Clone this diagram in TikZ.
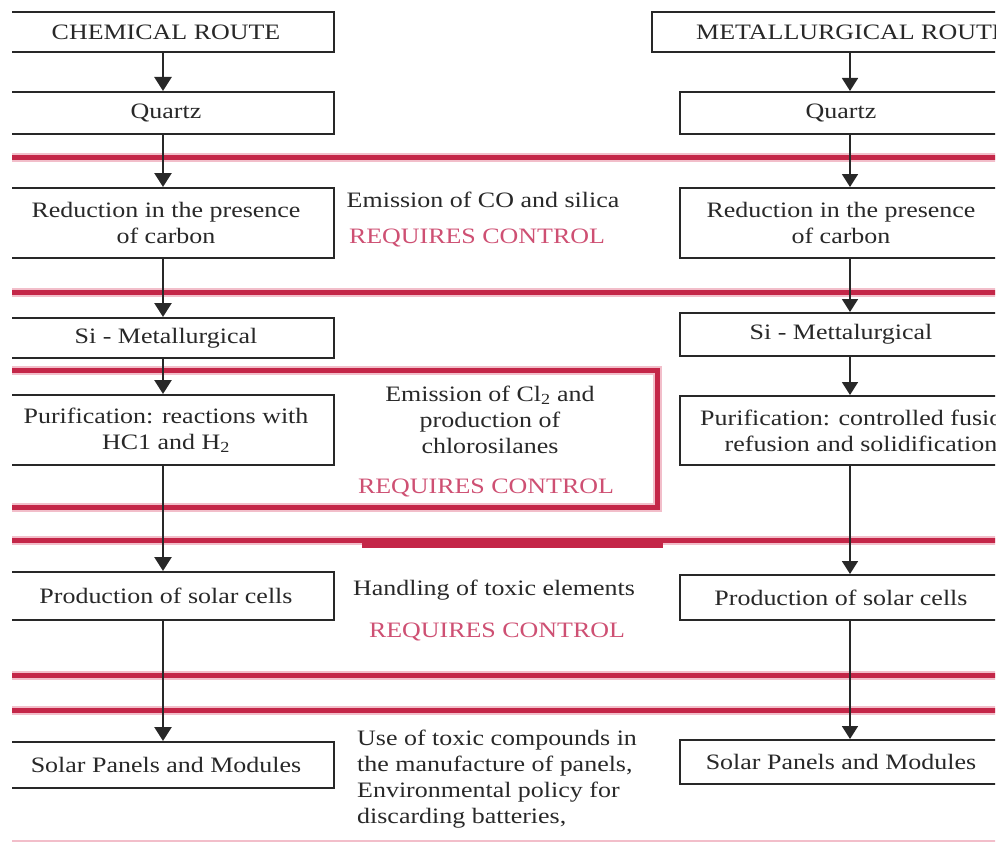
\documentclass[tikz,border=0pt]{standalone}
\usepackage{fontspec}
\setmainfont{Liberation Serif}[FakeStretch=1.18]
\usetikzlibrary{arrows.meta}
\definecolor{ink}{RGB}{40,40,40}
\definecolor{rulered}{RGB}{196,38,72}
\definecolor{rulehalo}{RGB}{242,190,202}
\definecolor{warn}{RGB}{206,80,115}
\begin{document}
\begin{tikzpicture}[x=1pt,y=-1pt,
  font=\fontsize{22}{26}\selectfont,
  stepbox/.style={draw=ink, line width=2pt, fill=white, text=ink,
    align=center, inner sep=0pt},
  note/.style={text=ink, align=center, inner sep=0pt},
  warning/.style={text=warn, inner sep=0pt},
  band/.style={draw=rulered, line width=5pt},
  halo/.style={draw=rulehalo, line width=9pt},
  flowl/.style={draw=ink, line width=2.6pt, -{Triangle[width=17pt,length=14pt]}},
  flowr/.style={draw=ink, line width=1.8pt, -{Triangle[width=16pt,length=13pt]}}]
\useasboundingbox (0,0) rectangle (1002,843);
\clip (12,10) rectangle (995,843);

% horizontal separators between the process stages
\foreach \y in {157,292,540,675,710}{
  \draw[halo] (0,\y) -- (1010,\y);
}
\draw[halo] (-10,370) rectangle (657,507);
\foreach \y in {157,292,540,675,710}{
  \draw[band] (0,\y) -- (1010,\y);
}
\draw[band] (-10,370) rectangle (657,507);
\draw[band] (362,545) -- (663,545);
\draw[draw=rulehalo, line width=2pt] (0,841) -- (1010,841);

% arrow axes of the two routes
\coordinate (la) at (163,0);
\coordinate (ra) at (850,0);

% chemical route
\node[stepbox, minimum width=336pt, minimum height=40pt] (lc) at (166,32) {CHEMICAL ROUTE};
\node[stepbox, minimum width=336pt, minimum height=42pt] (lq) at (166,113) {Quartz};
\node[stepbox, minimum width=336pt, minimum height=70pt] (lr) at (166,223) {Reduction in the presence\\of carbon};
\node[stepbox, minimum width=336pt, minimum height=40pt] (ls) at (166,338) {Si - Metallurgical};
\node[stepbox, minimum width=336pt, minimum height=70pt] (lp) at (166,430) {Purification: reactions with\\HC1 and H\textsubscript{2}};
\node[stepbox, minimum width=336pt, minimum height=48pt] (lpc) at (166,596) {Production of solar cells};
\node[stepbox, minimum width=336pt, minimum height=46pt] (lsp) at (166,765) {Solar Panels and Modules};

% metallurgical route
\node[stepbox, minimum width=400pt, minimum height=40pt] (rc) at (852,32) {METALLURGICAL ROUTE};
\node[stepbox, minimum width=322pt, minimum height=42pt] (rq) at (841,113) {Quartz};
\node[stepbox, minimum width=322pt, minimum height=70pt] (rr) at (841,223) {Reduction in the presence\\of carbon};
\node[stepbox, minimum width=322pt, minimum height=43pt] (rs) at (841,334.5) {Si - Mettalurgical};
\node[stepbox, minimum width=362pt, minimum height=69pt] (rp) at (861,430.5) {Purification: controlled fusion,\\refusion and solidification};
\node[stepbox, minimum width=322pt, minimum height=45pt] (rpc) at (841,597.5) {Production of solar cells};
\node[stepbox, minimum width=322pt, minimum height=44pt] (rsp) at (841,762) {Solar Panels and Modules};

% environmental notes
\node[note] (m1) at (483,200) {Emission of CO and silica};
\node[warning] (m1w) at (477,238) {REQUIRES CONTROL};
\node[note] (m2) at (490,420) {Emission of Cl\textsubscript{2} and\\production of\\chlorosilanes};
\node[warning] (m2w) at (486,488) {REQUIRES CONTROL};
\node[note] (m3) at (494,590) {Handling of toxic elements};
\node[warning] (m3w) at (497,632) {REQUIRES CONTROL};
\node[note, align=left, anchor=west] (m4) at (357,779) {Use of toxic compounds in\\the manufacture of panels,\\Environmental policy for\\discarding batteries,};

% flow arrows
\draw[flowl] (lc.south -| la) -- (lq.north -| la);
\draw[flowl] (lq.south -| la) -- (lr.north -| la);
\draw[flowl] (lr.south -| la) -- (ls.north -| la);
\draw[flowl] (ls.south -| la) -- (lp.north -| la);
\draw[flowl] (lp.south -| la) -- (lpc.north -| la);
\draw[flowl] (lpc.south -| la) -- (lsp.north -| la);

\draw[flowr] (rc.south -| ra) -- (rq.north -| ra);
\draw[flowr] (rq.south -| ra) -- (rr.north -| ra);
\draw[flowr] (rr.south -| ra) -- (rs.north -| ra);
\draw[flowr] (rs.south -| ra) -- (rp.north -| ra);
\draw[flowr] (rp.south -| ra) -- (rpc.north -| ra);
\draw[flowr] (rpc.south -| ra) -- (rsp.north -| ra);
\end{tikzpicture}
\end{document}
